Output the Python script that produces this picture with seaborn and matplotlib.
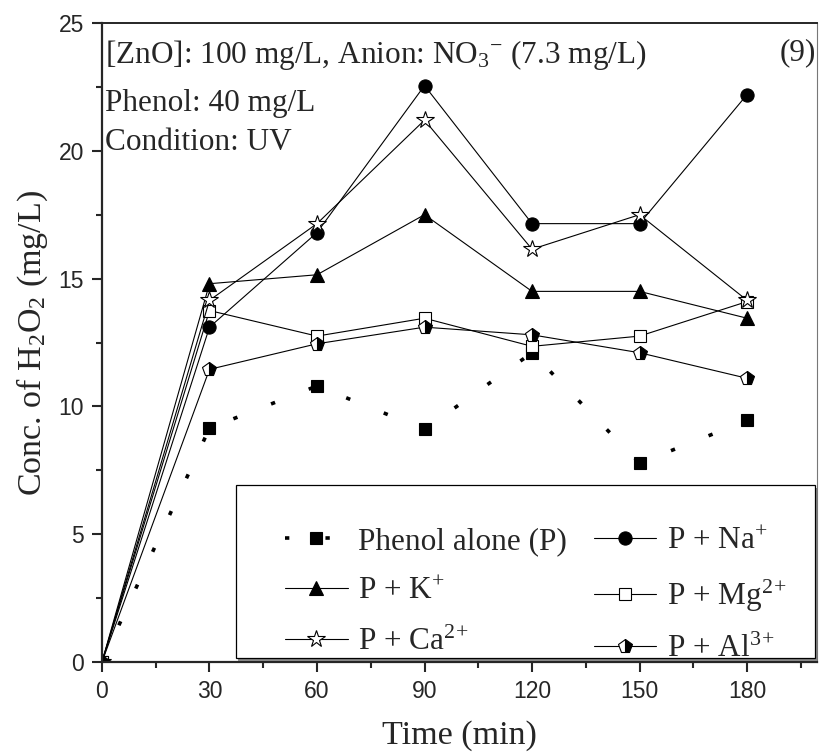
import matplotlib
matplotlib.use("Agg")
import matplotlib.pyplot as plt
import seaborn as sns
from matplotlib.ticker import MultipleLocator
from matplotlib.patches import Rectangle

# ---- data ----
time_min = [0, 30, 60, 90, 120, 150, 180]
phenol_alone = [0, 9.15, 10.8, 9.1, 12.1, 7.78, 9.45]
p_na = [0, 13.1, 16.8, 22.55, 17.15, 17.15, 22.2]
p_k = [0, 14.8, 15.15, 17.5, 14.5, 14.5, 13.45]
p_mg = [0, 13.75, 12.75, 13.45, 12.35, 12.75, 14.1]
p_ca = [0, 14.15, 17.15, 21.2, 16.15, 17.5, 14.15]
p_al = [0, 11.45, 12.45, 13.1, 12.8, 12.1, 11.1]

labels = ["Phenol alone (P)", "P + Na$^{+}$", "P + K$^{+}$",
          "P + Mg$^{2}$$^{+}$", "P + Ca$^{2}$$^{+}$", "P + Al$^{3}$$^{+}$"]

sns.set_style("ticks")
plt.rcParams["font.family"] = ["Liberation Serif", "DejaVu Serif"]
plt.rcParams["mathtext.fontset"] = "custom"
plt.rcParams["mathtext.rm"] = "Liberation Serif"
plt.rcParams["mathtext.it"] = "Liberation Serif:italic"
plt.rcParams["mathtext.bf"] = "Liberation Serif:bold"

fig = plt.figure(figsize=(8.19, 7.53), dpi=100)
ax = fig.add_axes([0.1245, 0.1208, 0.873, 0.8487])

common = dict(ax=ax, color="black", markeredgecolor="black", linewidth=0.8,
              markeredgewidth=0.8)

sns.lineplot(x=time_min, y=phenol_alone, marker="s", markersize=9,
             markerfacecolor="black", label=labels[0],
             **{**common, "linewidth": 2.6}, linestyle=(0, (1.2, 10)))
sns.lineplot(x=time_min, y=p_na, marker="o", markersize=9.5,
             markerfacecolor="black", label=labels[1], **common)
sns.lineplot(x=time_min, y=p_k, marker="^", markersize=10,
             markerfacecolor="black", label=labels[2], **common)
sns.lineplot(x=time_min, y=p_mg, marker="s", markersize=9,
             markerfacecolor="white", label=labels[3], **common)
sns.lineplot(x=time_min, y=p_ca, marker="*", markersize=13,
             markerfacecolor="white", label=labels[4], **common)
sns.lineplot(x=time_min, y=p_al, marker="p", markersize=10.5,
             markerfacecolor="black", markerfacecoloralt="white",
             fillstyle="right", label=labels[5], **common)

ax.set_xlim(0, 199.5)
ax.set_ylim(0, 25)
ax.xaxis.set_major_locator(MultipleLocator(30))
ax.xaxis.set_minor_locator(MultipleLocator(15))
ax.yaxis.set_major_locator(MultipleLocator(5))
ax.yaxis.set_minor_locator(MultipleLocator(2.5))
ax.tick_params(which="major", direction="out", length=7, width=1.5,
               labelsize=16.5, pad=6, top=False, right=False)
ax.tick_params(which="minor", direction="out", length=4, width=1.5,
               top=False, right=False)
for lab in ax.get_xticklabels() + ax.get_yticklabels():
    lab.set_family("Liberation Sans")

for s in ["left", "bottom"]:
    ax.spines[s].set_linewidth(1.6)
ax.spines["top"].set_linewidth(1.4)
ax.spines["right"].set_linewidth(0.8)
ax.spines["right"].set_color("#777777")

ax.set_xlabel("Time (min)", fontsize=24.5, labelpad=12)
ax.set_ylabel("Conc. of H$_2$O$_2$ (mg/L)", fontsize=24.5, labelpad=6)

txt_kw = dict(transform=ax.transAxes, fontsize=22.5, va="baseline")
ax.text(0.004, 0.938, "[ZnO]: 100 mg/L, Anion: NO$_3$$^{-}$ (7.3 mg/L)",
        ha="left", **txt_kw)
ax.text(0.004, 0.862, "Phenol: 40 mg/L", ha="left", **txt_kw)
ax.text(0.004, 0.802, "Condition: UV", ha="left", **txt_kw)
ax.text(0.999, 0.942, "(9)", ha="right", **txt_kw)

# legend frame with shadow
ax.add_patch(Rectangle((0.190, 0.002), 0.81, 0.271, transform=ax.transAxes,
                       facecolor="#888888", edgecolor="none", zorder=4.4,
                       clip_on=False))
ax.add_patch(Rectangle((0.187, 0.006), 0.81, 0.271, transform=ax.transAxes,
                       facecolor="white", edgecolor="black", linewidth=0.9,
                       zorder=4.5, clip_on=False))

handles, labs = ax.get_legend_handles_labels()
order = [0, 2, 4, 1, 3, 5]
leg = ax.legend([handles[i] for i in order], [labs[i] for i in order],
                ncol=2, loc="center left", bbox_to_anchor=(0.256, 0.104),
                frameon=False, fontsize=22.5, handlelength=2.0,
                handletextpad=0.35, columnspacing=0.85, labelspacing=0.68,
                borderpad=0, borderaxespad=0)
leg.set_zorder(5)

fig.savefig("out.png", dpi=100)
